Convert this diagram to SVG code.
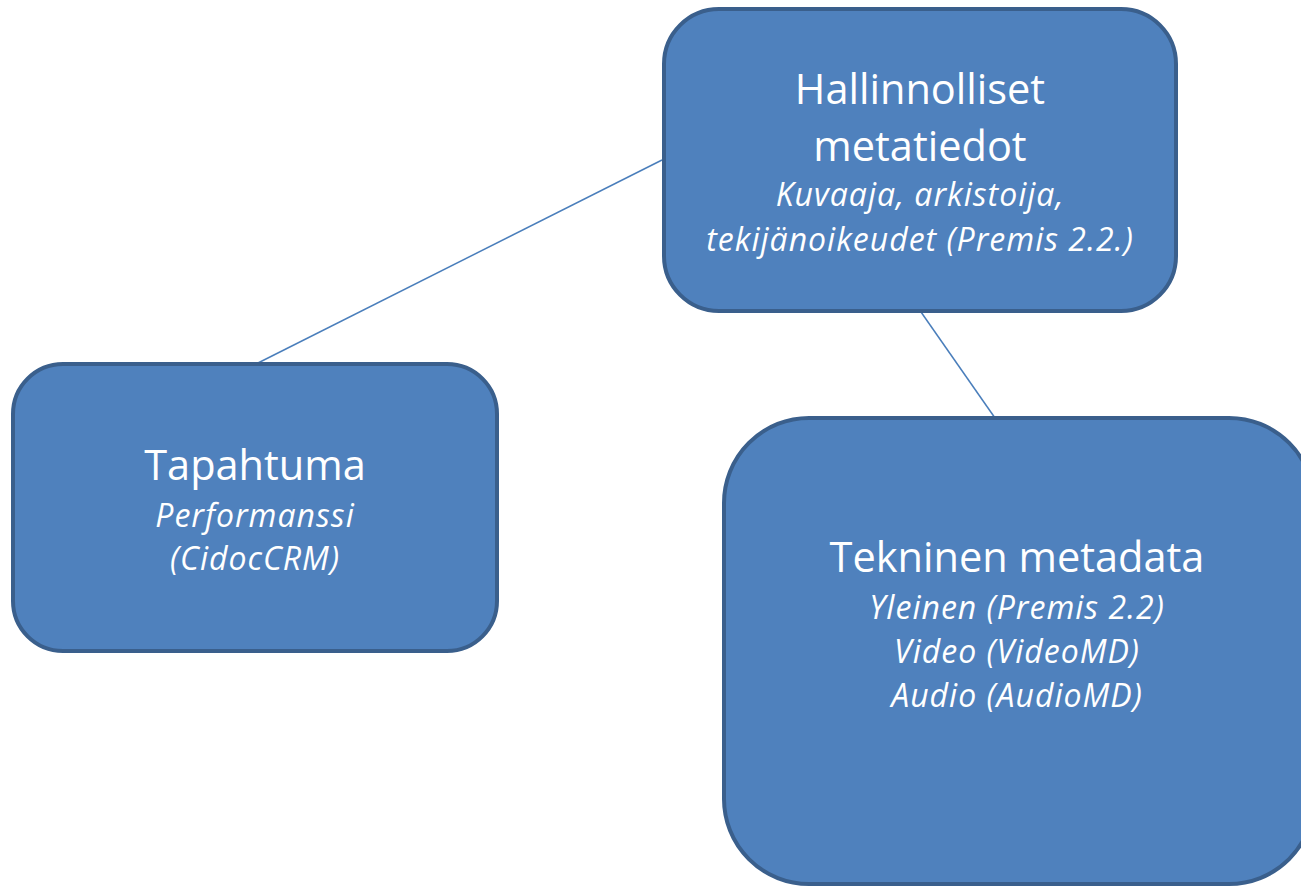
<svg xmlns="http://www.w3.org/2000/svg" width="1301" height="887" viewBox="0 0 1301 887">
<style>
.box{fill:#4f81bd;stroke:#3a5f8c;stroke-width:4}
.conn{stroke:#4a7ebb;stroke-width:1.5;fill:none}
.t{font-family:"Open Sans","Liberation Sans",sans-serif;fill:#ffffff;text-anchor:middle}
.h{font-size:41.5px}
.s{font-size:32px;font-style:italic;letter-spacing:1px}
</style>
<rect width="1301" height="887" fill="#ffffff"/>
<g id="connectors">
<line class="conn" x1="662" y1="160" x2="256" y2="364"/>
<line class="conn" x1="921" y1="312" x2="995" y2="418"/>
</g>
<g id="hallinnolliset">
<rect class="box" x="664" y="9" width="512" height="302" rx="55"/>
<text class="t h" x="920" y="104">Hallinnolliset</text>
<text class="t h" x="920" y="161">metatiedot</text>
<text class="t s" x="920" y="206">Kuvaaja, arkistoija,</text>
<text class="t s" x="920" y="251">tekijänoikeudet (Premis 2.2.)</text>
</g>
<g id="tapahtuma">
<rect class="box" x="13" y="364" width="484" height="287" rx="50"/>
<text class="t h" x="255" y="480">Tapahtuma</text>
<text class="t s" x="255" y="527">Performanssi</text>
<text class="t s" x="255" y="570">(CidocCRM)</text>
</g>
<g id="tekninen">
<rect class="box" x="724" y="418" width="590" height="466" rx="85"/>
<text class="t h" x="1017" y="572">Tekninen metadata</text>
<text class="t s" x="1017" y="619">Yleinen (Premis 2.2)</text>
<text class="t s" x="1017" y="663">Video (VideoMD)</text>
<text class="t s" x="1017" y="707">Audio (AudioMD)</text>
</g>
</svg>
